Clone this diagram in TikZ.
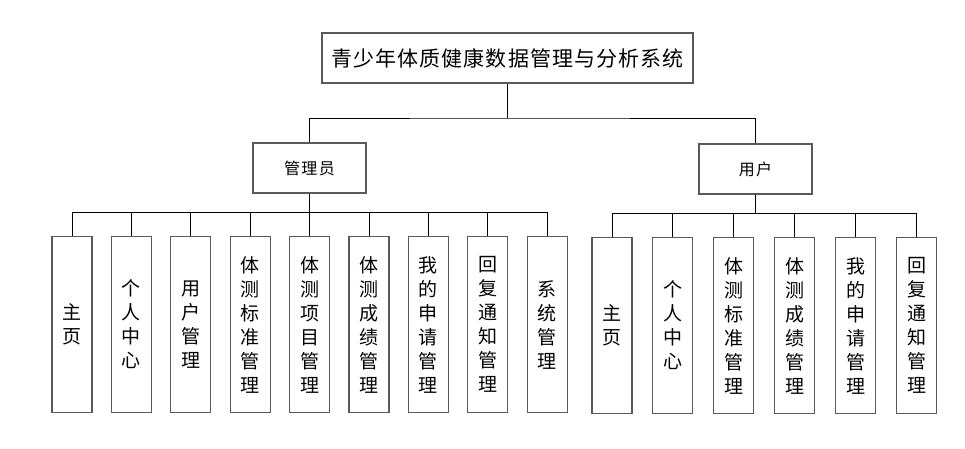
\documentclass[tikz,border=0pt]{standalone}
\usepackage{fontspec}
\setmainfont{Noto Sans CJK SC}
\usetikzlibrary{positioning}

\tikzset{
  sysbox/.style={draw=black!65, line width=1.1pt, fill=white, minimum width=371pt, minimum height=50pt,
    font=\fontsize{21}{25}\selectfont\addfontfeature{LetterSpace=5}},
  rolebox/.style={draw=black!65, line width=1.1pt, fill=white, minimum width=113pt, minimum height=50pt,
    font=\fontsize{16}{19}\selectfont\addfontfeature{LetterSpace=8}},
  leafbox/.style={draw=black!65, line width=1.1pt, fill=white, minimum width=40pt, minimum height=176pt,
    inner sep=0pt, align=center, anchor=north, font=\fontsize{19}{24}\selectfont},
  link/.style={black, line width=0.9pt},
}

\begin{document}
\begin{tikzpicture}[x=1pt, y=-1pt]

\useasboundingbox (0,0) rectangle (965,448);

% Top and role boxes
\node[sysbox] (root) at (507.5,58) {青少年体质健康数据管理与分析系统};
\node[rolebox] (admin) at (309.5,168) {管理员};
\node[rolebox] (user) at (755.5,169) {用户};

% Admin leaves
\foreach \i/\t in {1/{主\\页}, 2/{个\\人\\中\\心}, 3/{用\\户\\管\\理},
    4/{体\\测\\标\\准\\管\\理}, 5/{体\\测\\项\\目\\管\\理}, 6/{体\\测\\成\\绩\\管\\理},
    7/{我\\的\\申\\请\\管\\理}, 8/{回\\复\\通\\知\\管\\理}, 9/{系\\统\\管\\理}}
  \node[leafbox] (a\i) at ({72+59.4*(\i-1)},236) {\t};

% User leaves
\foreach \i/\t in {1/{主\\页}, 2/{个\\人\\中\\心}, 3/{体\\测\\标\\准\\管\\理},
    4/{体\\测\\成\\绩\\管\\理}, 5/{我\\的\\申\\请\\管\\理}, 6/{回\\复\\通\\知\\管\\理}}
  \node[leafbox] (u\i) at ({612+60.9*(\i-1)},237) {\t};

% Connectors
\coordinate (topbus) at (507.5,118);
\draw[link] (root.south) -- (topbus);
\draw[link] (admin.north) |- (topbus) -| (user.north);

\coordinate (adminbus) at ([yshift=-19pt]admin.south);
\draw[link] (admin.south) -- (adminbus);
\foreach \i in {1,...,9}
  \draw[link] (adminbus) -| (a\i.north);

\coordinate (userbus) at ([yshift=-19pt]user.south);
\draw[link] (user.south) -- (userbus);
\foreach \i in {1,...,6}
  \draw[link] (userbus) -| (u\i.north);

\end{tikzpicture}
\end{document}
